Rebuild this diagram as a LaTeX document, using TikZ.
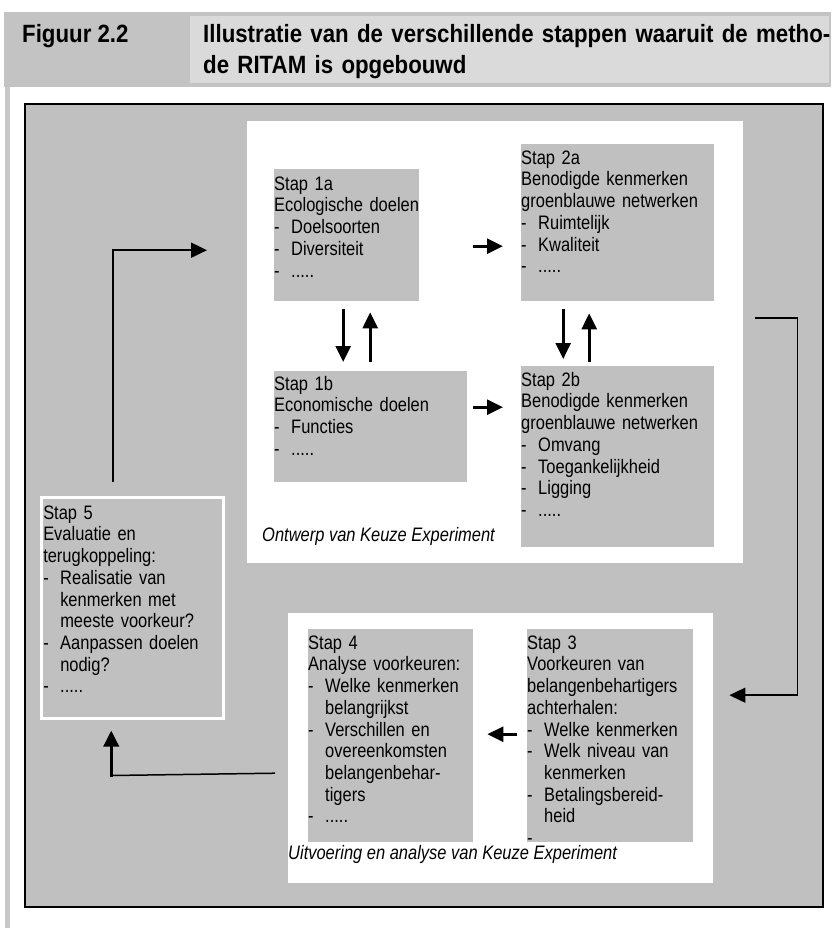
\documentclass[tikz,border=0pt]{standalone}
\usepackage{fontspec}
\setmainfont{Liberation Sans}
\newfontfamily\boxfont[FakeStretch=0.845]{Liberation Sans}
\newfontfamily\headfont[FakeStretch=0.89]{Liberation Sans}
\usetikzlibrary{arrows.meta,calc}
\definecolor{panelgray}{HTML}{C0C0C0}
\definecolor{headdark}{HTML}{C3C3C3}
\definecolor{headlight}{HTML}{DADADA}
\definecolor{bargray}{HTML}{C8C8C8}
\newcommand{\itm}{\makebox[17pt][l]{-}}
\newcommand{\ind}{\hspace*{17pt}}
\hyphenpenalty=10000
\begin{document}
\begin{tikzpicture}[x=1pt, y=-1pt, >={Triangle[length=16pt,width=15pt]},
  stapbox/.style={fill=panelgray, anchor=north west, inner sep=0pt, align=left,
    text height=20pt, font=\boxfont\fontsize{19.5}{21.7}\selectfont},
  capt/.style={anchor=base west, inner sep=0pt, font=\boxfont\itshape\fontsize{19.5}{21.7}\selectfont},
  head/.style={anchor=base west, inner sep=0pt, font=\headfont\bfseries\fontsize{25}{31}\selectfont},
  arr/.style={->, line width=2.8pt}]
\useasboundingbox (0,0) rectangle (831,931);
% kop
\fill[headdark] (4,12) rectangle (831,87);
\fill[headlight] (190,16) rectangle (829,83);
\fill[bargray] (4.5,87) rectangle (9.5,928);
\node[head] (fig) at (22,43) {Figuur 2.2};
\node[head, text width=630pt, align=left] (title) at (203,43)
  {Illustratie van de verschillende stappen waaruit de metho-\\de RITAM is opgebouwd};
% kader en panelen
\draw[line width=2pt, fill=panelgray] (25,104) rectangle (823,907);
\fill[white] (247,121) rectangle (743,563);
\fill[white] (288,613) rectangle (713,883);
% stappen
\node[stapbox, text width=145pt, text height=21pt, text depth=111pt] (s1a) at (274,169)
  {Stap 1a\\Ecologische doelen\\\itm Doelsoorten\\\itm Diversiteit\\\itm .....};
\node[stapbox, text width=193pt, text height=19pt, text depth=92pt] (s1b) at (274,371)
  {Stap 1b\\Economische doelen\\\itm Functies\\\itm .....};
\node[stapbox, text width=193pt, text depth=137pt] (s2a) at (521,144)
  {Stap 2a\\Benodigde kenmerken\\groenblauwe netwerken\\\itm Ruimtelijk\\\itm Kwaliteit\\\itm .....};
\node[stapbox, text width=193pt, text depth=161pt] (s2b) at (521,366)
  {Stap 2b\\Benodigde kenmerken\\groenblauwe netwerken\\\itm Omvang\\\itm Toegankelijkheid\\\itm Ligging\\\itm .....};
\node[stapbox, text width=166pt, text depth=193pt] (s3) at (527,629)
  {Stap 3\\Voorkeuren van\\belangenbehartigers\\achterhalen:\\\itm Welke kenmerken\\\itm Welk niveau van\\\ind kenmerken\\\itm Betalingsbereid-\\\ind heid\\-};
\node[stapbox, text width=165pt, text depth=193pt] (s4) at (308,629)
  {Stap 4\\Analyse voorkeuren:\\\itm Welke kenmerken\\\ind belangrijkst\\\itm Verschillen en\\\ind overeenkomsten\\\ind belangenbehar-\\\ind tigers\\\itm .....};
\node[stapbox, draw=white, line width=2.5pt, inner xsep=2pt, text width=178pt, text height=22pt, text depth=199pt] (s5) at (40,496)
  {Stap 5\\Evaluatie en\\terugkoppeling:\\\itm Realisatie van\\\ind kenmerken met\\\ind meeste voorkeur?\\\itm Aanpassen doelen\\\ind nodig?\\\itm .....};
% onderschriften
\node[capt] (ontwerp) at (262,541) {Ontwerp van Keuze Experiment};
\node[capt] (uitvoering) at (288,859) {Uitvoering en analyse van Keuze Experiment};
% pijlen binnen de panelen
\draw[arr] ($(s1a.east)+(54,11)$) -- ($(s2a.west |- s1a.east)+(-18,11)$);
\draw[arr] ($(s1b.east)+(6,-19.5)$) -- ($(s2b.west |- s1b.east)+(-18,-19.5)$);
\draw[arr] ($(s1a.south)+(-3.5,8)$) -- ($(s1b.north)+(-27.5,-9)$);
\draw[arr] ($(s1b.north)+(-0.5,-9)$) -- ($(s1a.south)+(23.5,11)$);
\draw[arr] ($(s2a.south)+(-54.5,8)$) -- ($(s2b.north)+(-54.5,-7)$);
\draw[arr] ($(s2b.north)+(-28.5,-4)$) -- ($(s2a.south)+(-28.5,12)$);
\draw[arr] ($(s3.west)+(-10,-1.5)$) -- ($(s4.east |- s3.west)+(14,-1.5)$);
% terugkoppeling
\draw[->, line width=2pt] ($(s5.north)+(-19,-14)$) |- ($(s1a.west)+(-67,15)$);
\draw[->, line width=1.5pt] ($(s2a.east)+(41,95.5)$) -- ++(42,0) |- ($(s3.east)+(36,-40.5)$);
\draw[line width=1.5pt] ($(s4.west)+(-33,37.5)$) -- ($(s5.south)+(-21,56)$);
\draw[->, line width=3.5pt] ($(s5.south)+(-21,57.5)$) -- ($(s5.south)+(-21,11)$);
\end{tikzpicture}
\end{document}
